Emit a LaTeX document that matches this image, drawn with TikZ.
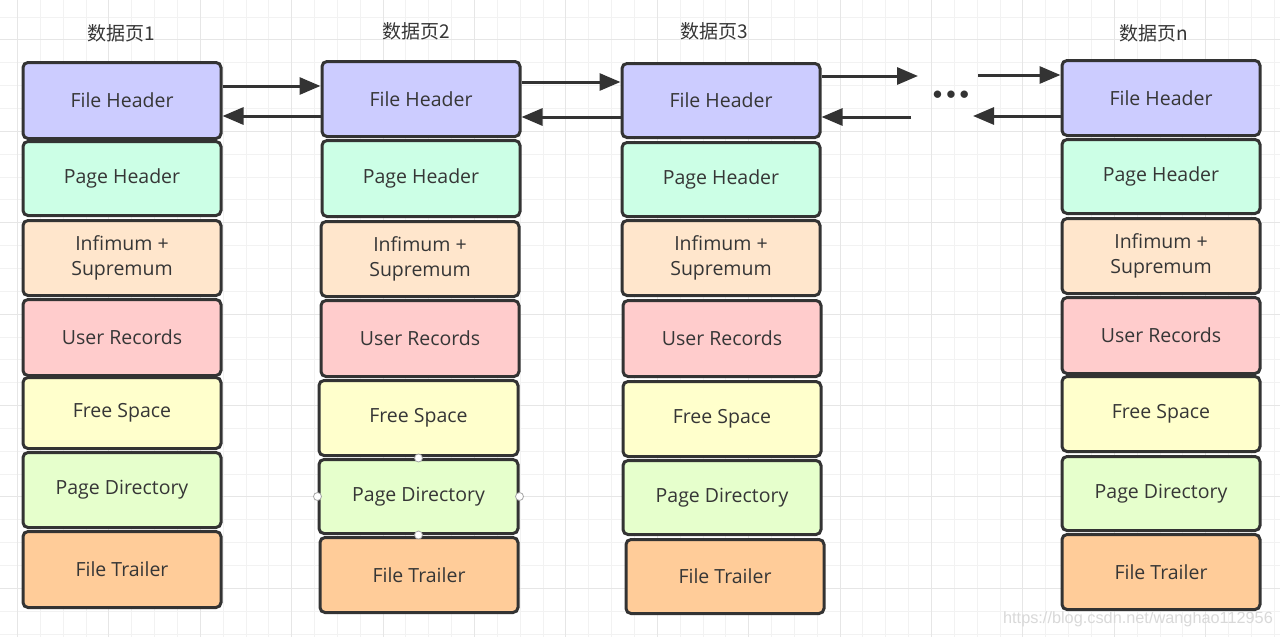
\documentclass[tikz,border=0pt]{standalone}
\usepackage{fontspec}
\setmainfont{Open Sans}
\newfontfamily\cjkfont{Noto Sans CJK SC}
\newfontfamily\wmfont{Liberation Sans}
\newfontfamily\dotfont{DejaVu Sans}
\usetikzlibrary{arrows.meta}
\definecolor{txt}{HTML}{363636}
\definecolor{edge}{HTML}{333333}
\definecolor{cFH}{HTML}{CCCCFF}
\definecolor{cPH}{HTML}{CCFFE6}
\definecolor{cIS}{HTML}{FFE6CC}
\definecolor{cUR}{HTML}{FFCCCC}
\definecolor{cFS}{HTML}{FFFFCC}
\definecolor{cPD}{HTML}{E6FFCC}
\definecolor{cFT}{HTML}{FFCC99}
\definecolor{gridminor}{HTML}{F2F2F2}
\definecolor{gridmajor}{HTML}{E6E6E6}
\tikzset{
  pbox/.style={draw=edge,line width=3pt,rounded corners=5pt,inner sep=0pt,
    text=txt,font=\fontsize{19.5}{25}\selectfont,align=center},
  arr/.style={draw=edge,line width=3pt,-{Triangle[length=21pt,width=17pt]}},
  ttl/.style={text=txt,font=\cjkfont\fontsize{19}{22}\selectfont,inner sep=0pt},
  handle/.style={circle,draw=gray!70,fill=white,line width=0.8pt,minimum size=8pt,inner sep=0pt},
}
\newcommand\pbox[7]{\node[pbox,fill=#6,minimum width={#4-#2},minimum height={#5-#3}] (#1) at ({(#2+#4)/2},{(#3+#5)/2+1.5}) {#7};}
\begin{document}
\begin{tikzpicture}[x=1pt,y=-1pt]
\useasboundingbox (0,0) rectangle (1280,637);
\fill[white] (0,0) rectangle (1280,637);
% grid
\foreach \i in {0,...,56} {
  \pgfmathsetmacro\gx{17.4+\i*22.85}
  \draw[gridminor,line width=0.8pt] (\gx,0) -- (\gx,637);
}
\foreach \i in {0,...,28} {
  \pgfmathsetmacro\gy{17+\i*22.85}
  \draw[gridminor,line width=0.8pt] (0,\gy) -- (1280,\gy);
}
\foreach \i in {0,4,...,56} {
  \pgfmathsetmacro\gx{17.4+\i*22.85}
  \draw[gridmajor,line width=0.8pt] (\gx,0) -- (\gx,637);
}
\foreach \i in {1,5,...,28} {
  \pgfmathsetmacro\gy{17+\i*22.85}
  \draw[gridmajor,line width=0.8pt] (0,\gy) -- (1280,\gy);
}
% titles
\node[ttl] (t1) at (121,33) {数据页1};
\node[ttl] (t2) at (416,31) {数据页2};
\node[ttl] (t3) at (714,31) {数据页3};
\node[ttl] (t4) at (1154,33) {数据页n};
% column 1
\pbox{fh1}{23}{61}{221}{137}{cFH}{File Header}
\pbox{ph1}{23}{140}{221}{214}{cPH}{Page Header}
\pbox{is1}{23}{219}{221}{294}{cIS}{Infimum +\\Supremum}
\pbox{ur1}{23}{298}{221}{374}{cUR}{User Records}
\pbox{fs1}{23}{376}{221}{447}{cFS}{Free Space}
\pbox{pd1}{23}{451}{221}{526}{cPD}{Page Directory}
\pbox{ft1}{23}{530}{221}{606}{cFT}{File Trailer}
% column 2
\pbox{fh2}{322}{60}{520}{135}{cFH}{File Header}
\pbox{ph2}{322}{139}{520}{215}{cPH}{Page Header}
\pbox{is2}{321}{220}{519}{295}{cIS}{Infimum +\\Supremum}
\pbox{ur2}{321}{299}{519}{375}{cUR}{User Records}
\pbox{fs2}{319}{379}{518}{454}{cFS}{Free Space}
\pbox{pd2}{319}{458}{518}{532}{cPD}{Page Directory}
\pbox{ft2}{320}{536}{518}{611}{cFT}{File Trailer}
% column 3
\pbox{fh3}{622}{62}{820}{136}{cFH}{File Header}
\pbox{ph3}{622}{141}{820}{215}{cPH}{Page Header}
\pbox{is3}{622}{219}{820}{294}{cIS}{Infimum +\\Supremum}
\pbox{ur3}{623}{299}{821}{375}{cUR}{User Records}
\pbox{fs3}{623}{380}{821}{455}{cFS}{Free Space}
\pbox{pd3}{623}{459}{821}{533}{cPD}{Page Directory}
\pbox{ft3}{626}{538}{824}{612}{cFT}{File Trailer}
% column 4
\pbox{fh4}{1062}{59}{1260}{134}{cFH}{File Header}
\pbox{ph4}{1062}{138}{1260}{212}{cPH}{Page Header}
\pbox{is4}{1062}{217}{1260}{292}{cIS}{Infimum +\\Supremum}
\pbox{ur4}{1062}{296}{1260}{372}{cUR}{User Records}
\pbox{fs4}{1062}{375}{1260}{450}{cFS}{Free Space}
\pbox{pd4}{1062}{455}{1260}{529}{cPD}{Page Directory}
\pbox{ft4}{1062}{533}{1260}{608}{cFT}{File Trailer}
% selection handles on pd2
\node[handle] (hT) at (pd2.north) {};
\node[handle] (hB) at (pd2.south) {};
\node[handle] (hL) at (pd2.west) {};
\node[handle] (hR) at (pd2.east) {};
% arrows
\draw[arr] (fh1.east |- 0,86) -- (fh2.west |- 0,86);
\draw[arr] (fh2.west |- 0,116) -- (fh1.east |- 0,116);
\draw[arr] (fh2.east |- 0,82) -- (fh3.west |- 0,82);
\draw[arr] (fh3.west |- 0,117) -- (fh2.east |- 0,117);
\coordinate (g1) at (918,76);
\coordinate (g2) at (911,117);
\coordinate (g3) at (978,75);
\coordinate (g4) at (973,116);
\draw[arr] (fh3.east |- g1) -- (g1);
\draw[arr] (g2) -- (fh3.east |- g2);
\draw[arr] (g3) -- (fh4.west |- g3);
\draw[arr] (fh4.west |- g4) -- (g4);
% dots
\node[text=edge,inner sep=0pt,font=\dotfont\bfseries\fontsize{21}{21}\selectfont] (dots) at (951,97) {•••};
% watermark
\node[text=gray!30,font=\wmfont\fontsize{16.3}{17}\selectfont,inner sep=0pt] (wm) at (1138,619) {https://blog.csdn.net/wanghao112956};
\end{tikzpicture}
\end{document}
